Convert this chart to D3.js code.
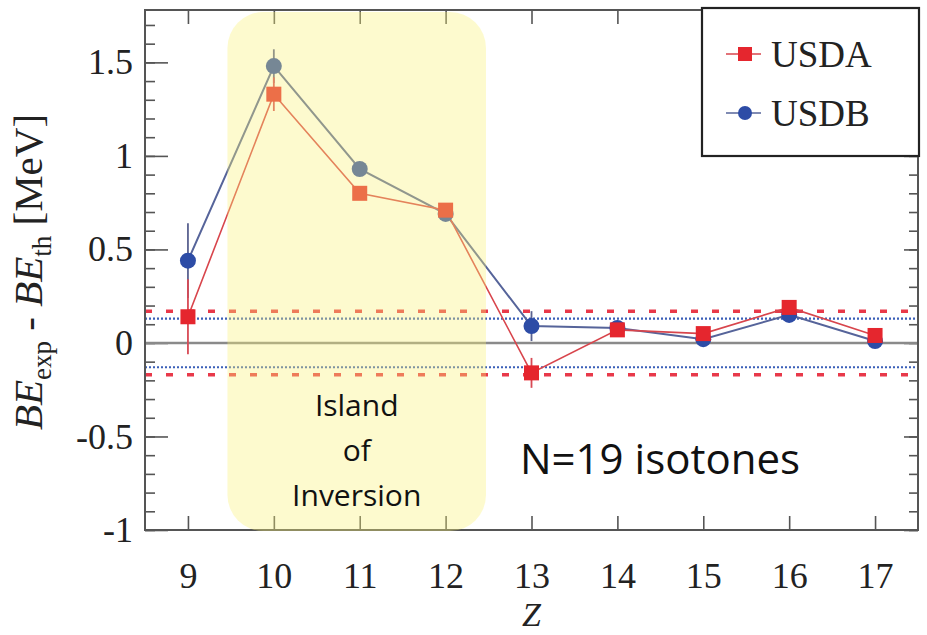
<!DOCTYPE html>
<html><head><meta charset="utf-8">
<script src="https://cdn.jsdelivr.net/npm/d3@7"></script>
<style>body{margin:0;background:#fff}svg{display:block}</style>
</head><body>
<svg id="c" width="927" height="635"></svg>
<script>
const Z = [9, 10, 11, 12, 13, 14, 15, 16, 17];
const usda = [0.14, 1.33, 0.80, 0.71, -0.16, 0.07, 0.05, 0.19, 0.04];
const usdb = [0.44, 1.48, 0.93, 0.69, 0.09, 0.08, 0.02, 0.15, 0.01];
const expErr = [0.20, 0.09, 0.02, 0.02, 0.08, 0.01, 0.01, 0.01, 0.01];
const yMajorTicks = [-1, -0.5, 0, 0.5, 1, 1.5];
const yTickLabels = ["-1", "-0.5", "0", "0.5", "1", "1.5"];
const rmsUSDA = 0.17, rmsUSDB = 0.13;
const islandRange = [9.46, 12.47];
const islandLines = ["Island", "of", "Inversion"];
const annotation = "N=19 isotones";

const svg = d3.select("#c");
const L = 145, R = 918, T = 10, B = 530;
const x = d3.scaleLinear().domain([8.5, 17.5]).range([L, R]);
const y = d3.scaleLinear().domain([-1, 1.78]).range([B, T]);
const serif = "'Liberation Serif', 'Times New Roman', serif";
const axisCol = "#555";
const redC = "#e5262e", redLine = "#d8454c";
const blueC = "#2d4ca6", blueLine = "#56649a";

const minor = d3.range(-10, 18).map(v => v / 10).filter(v => v >= -1 && v <= 1.75);

function styleAxis(g) {
  g.attr("font-family", null).attr("font-size", null);
  g.select(".domain").remove();
  g.selectAll(".tick line").attr("stroke", axisCol).attr("stroke-width", 1.6);
  g.selectAll("text").style("font-family", serif).style("font-size", "36px").attr("fill", "#222");
}
svg.append("g").attr("transform", `translate(${L},0)`)
  .call(d3.axisRight(y).tickValues(minor).tickSize(10).tickFormat(""))
  .call(styleAxis);
svg.append("g").attr("transform", `translate(${L},0)`)
  .call(d3.axisLeft(y).tickValues(yMajorTicks).tickSize(-23).tickPadding(12)
    .tickFormat((d, i) => yTickLabels[i]))
  .call(styleAxis);
svg.append("g").attr("transform", `translate(${R},0)`)
  .call(d3.axisLeft(y).tickValues(minor).tickSize(9).tickFormat(""))
  .call(styleAxis);
svg.append("g").attr("transform", `translate(${R},0)`)
  .call(d3.axisLeft(y).tickValues(yMajorTicks).tickSize(14).tickFormat(""))
  .call(styleAxis);
svg.append("g").attr("transform", `translate(0,${B})`)
  .call(d3.axisBottom(x).tickValues(Z).tickSize(-14).tickPadding(32).tickFormat(d3.format("d")))
  .call(styleAxis);
svg.append("g").attr("transform", `translate(0,${T})`)
  .call(d3.axisTop(x).tickValues(Z).tickSize(-14).tickFormat(""))
  .call(styleAxis);

const hl = (v, col, w, dash) => svg.append("line").attr("x1", L).attr("x2", R)
  .attr("y1", y(v)).attr("y2", y(v)).attr("stroke", col).attr("stroke-width", w)
  .attr("stroke-dasharray", dash);
hl(0, "#8a8a8a", 2.5, null);
[rmsUSDB, -rmsUSDB].forEach(v => hl(v, "#3a5fb8", 2.2, "2,2"));
[rmsUSDA, -rmsUSDA].forEach(v => hl(v, "#e8394a", 3.5, "7,14"));

svg.append("rect").attr("x", L).attr("y", T).attr("width", R - L).attr("height", B - T)
  .attr("fill", "none").attr("stroke", axisCol).attr("stroke-width", 2);

const line = d3.line().x((d, i) => x(Z[i])).y(d => y(d));
function errBars(vals, col) {
  svg.append("g").selectAll("line").data(vals).join("line")
    .attr("x1", (d, i) => x(Z[i])).attr("x2", (d, i) => x(Z[i]))
    .attr("y1", (d, i) => y(d - expErr[i])).attr("y2", (d, i) => y(d + expErr[i]))
    .attr("stroke", col).attr("stroke-width", 1.8);
}
errBars(usdb, "#5a6290");
errBars(usda, "#d84a55");
svg.append("path").datum(usdb).attr("d", line).attr("fill", "none")
  .attr("stroke", blueLine).attr("stroke-width", 2);
svg.append("path").datum(usda).attr("d", line).attr("fill", "none")
  .attr("stroke", redLine).attr("stroke-width", 1.6);
svg.append("g").selectAll("circle").data(usdb).join("circle")
  .attr("cx", (d, i) => x(Z[i])).attr("cy", d => y(d)).attr("r", 8).attr("fill", blueC);
svg.append("g").selectAll("rect").data(usda).join("rect")
  .attr("x", (d, i) => x(Z[i]) - 7.5).attr("y", d => y(d) - 7.5)
  .attr("width", 15).attr("height", 15).attr("fill", redC);

svg.append("rect").attr("x", x(islandRange[0])).attr("y", 12)
  .attr("width", x(islandRange[1]) - x(islandRange[0])).attr("height", 519)
  .attr("rx", 36).attr("fill", "rgb(250,240,120)").attr("fill-opacity", 0.36);
const cx = (x(islandRange[0]) + x(islandRange[1])) / 2;
svg.append("g").selectAll("text").data(islandLines).join("text")
  .attr("x", cx).attr("y", (d, i) => 416 + i * 45).attr("text-anchor", "middle")
  .style("font-family", "'Open Sans', sans-serif").style("font-size", "30px").attr("fill", "#111")
  .text(d => d);
svg.append("text").attr("x", 660).attr("y", 474).attr("text-anchor", "middle")
  .style("font-family", "'Open Sans', sans-serif").style("font-size", "42px").attr("fill", "#111")
  .text(annotation);

const lg = svg.append("g");
lg.append("rect").attr("x", 702).attr("y", 8).attr("width", 217).attr("height", 148)
  .attr("fill", "#fff").attr("stroke", "#222").attr("stroke-width", 2.2);
const legendItems = [{name: "USDA", col: redC, lc: redLine, shape: "sq", yy: 54},
                     {name: "USDB", col: blueC, lc: blueLine, shape: "ci", yy: 113}];
legendItems.forEach(it => {
  lg.append("line").attr("x1", 726).attr("x2", 761).attr("y1", it.yy).attr("y2", it.yy)
    .attr("stroke", it.lc).attr("stroke-width", 1.6);
  if (it.shape === "sq") lg.append("rect").attr("x", 738).attr("y", it.yy - 7).attr("width", 14).attr("height", 14).attr("fill", it.col);
  else lg.append("circle").attr("cx", 745).attr("cy", it.yy).attr("r", 7).attr("fill", it.col);
  lg.append("text").attr("x", 771).attr("y", it.yy + 13).style("font-family", serif)
    .style("font-size", "37px").attr("fill", "#222").text(it.name);
});

svg.append("text").attr("x", x(13)).attr("y", 626).attr("text-anchor", "middle")
  .style("font-family", serif).style("font-style", "italic").style("font-size", "34px").attr("fill", "#222").text("Z");
const yl = svg.append("text").attr("transform", "translate(42,272) rotate(-90)")
  .attr("text-anchor", "middle").style("font-family", serif).style("font-size", "41px").attr("fill", "#222");
yl.append("tspan").style("font-style", "italic").text("BE");
yl.append("tspan").style("font-size", "27px").attr("dy", 9).text("exp");
yl.append("tspan").attr("dy", -9).text(" - ");
yl.append("tspan").style("font-style", "italic").text("BE");
yl.append("tspan").style("font-size", "27px").attr("dy", 9).text("th");
yl.append("tspan").attr("dy", -9).text(" [MeV]");
</script>
</body></html>
